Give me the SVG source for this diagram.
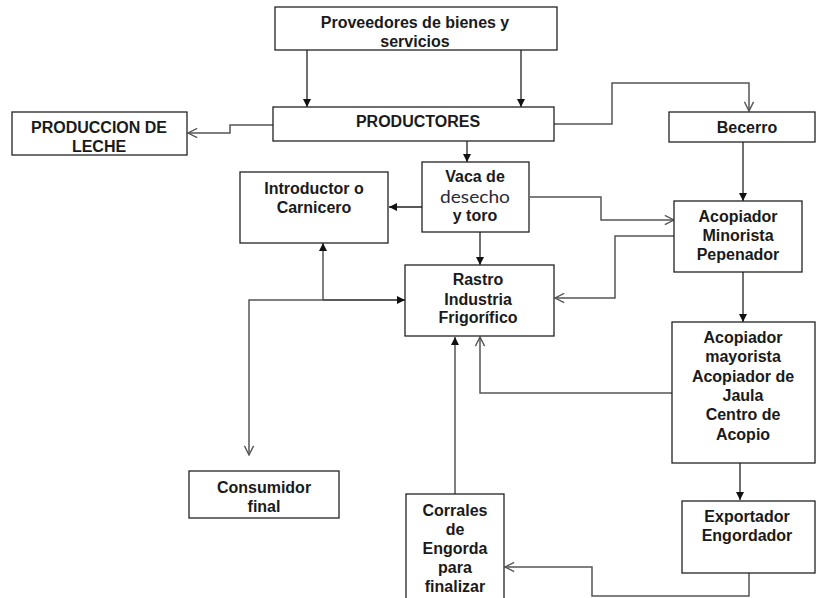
<svg xmlns="http://www.w3.org/2000/svg" width="816" height="598" viewBox="0 0 816 598">
<style>
.box{fill:#fff;stroke:#222;stroke-width:1.3}
.t{font-family:"Liberation Sans",Arial,sans-serif;font-weight:bold;font-size:16px;fill:#1a1a1a;text-anchor:middle}
.c{font-family:Lato,"Open Sans",sans-serif;font-size:18px;fill:#2a2a3a;text-anchor:middle}
.k{fill:none;stroke:#222;stroke-width:1.3}
.g{fill:none;stroke:#555;stroke-width:1.5}
</style>
<defs>
<marker id="fa" viewBox="0 0 10 10" refX="10" refY="5" markerUnits="userSpaceOnUse" markerWidth="8" markerHeight="8" orient="auto">
<path d="M0,0 L10,5 L0,10 z" fill="#111"/>
</marker>
<marker id="oa" viewBox="0 0 12 12" refX="11" refY="6" markerUnits="userSpaceOnUse" markerWidth="11" markerHeight="11" orient="auto">
<path d="M1,1 L11,6 L1,11" fill="none" stroke="#555" stroke-width="1.5"/>
</marker>
</defs>
<rect width="816" height="598" fill="#fff"/>
<g id="connectors">
<path class="k" d="M307,50 V107" marker-end="url(#fa)"/>
<path class="k" d="M521,50 V107" marker-end="url(#fa)"/>
<path class="g" d="M273,125 H230 V133 H188" marker-end="url(#oa)"/>
<path class="g" d="M554,124 H612 V83 H749 V111" marker-end="url(#oa)"/>
<path class="k" d="M467,141 V162" marker-end="url(#fa)"/>
<path class="k" d="M422,207 H389" marker-end="url(#fa)"/>
<path class="g" d="M530,197 H601 V220 H674" marker-end="url(#oa)"/>
<path class="k" d="M743,142 V201" marker-end="url(#fa)"/>
<path class="k" d="M480,232 V265" marker-end="url(#fa)"/>
<path class="g" d="M674,236 H615 V298 H555" marker-end="url(#oa)"/>
<path class="k" d="M743,272 V322" marker-end="url(#fa)"/>
<path class="g" d="M672,393 H480 V337" marker-end="url(#oa)"/>
<path class="k" d="M740,463 V500" marker-end="url(#fa)"/>
<path class="g" d="M749,573 V596 H592 V567 H505" marker-end="url(#oa)"/>
<path class="g" d="M455,494 V337" marker-end="url(#fa)"/>
<path class="k" d="M323,300 H405" stroke-width="1.8" marker-end="url(#fa)"/>
<path class="g" d="M323,300 V243" marker-end="url(#fa)"/>
<path class="g" d="M323,300 H249 V455" marker-end="url(#oa)"/>
</g>
<g id="proveedores">
<rect class="box" x="275" y="7" width="282" height="43"/>
<text class="t" x="415" y="28">Proveedores de bienes y</text>
<text class="t" x="415" y="47">servicios</text>
</g>
<g id="productores">
<rect class="box" x="273" y="107" width="281" height="34"/>
<text class="t" x="418" y="127">PRODUCTORES</text>
</g>
<g id="leche">
<rect class="box" x="12" y="112" width="175" height="43"/>
<text class="t" x="99" y="133">PRODUCCION DE</text>
<text class="t" x="99" y="152">LECHE</text>
</g>
<g id="becerro">
<rect class="box" x="669" y="112" width="146" height="30"/>
<text class="t" x="747" y="133">Becerro</text>
</g>
<g id="vaca">
<rect class="box" x="422" y="162" width="107" height="70"/>
<text class="t" x="475" y="182">Vaca de</text>
<text class="c" x="475" y="203" textLength="70" lengthAdjust="spacingAndGlyphs">desecho</text>
<text class="t" x="475" y="221">y toro</text>
</g>
<g id="introductor">
<rect class="box" x="240" y="172" width="148" height="71"/>
<text class="t" x="314" y="194">Introductor o</text>
<text class="t" x="314" y="213">Carnicero</text>
</g>
<g id="acopiador-minorista">
<rect class="box" x="674" y="201" width="128" height="71"/>
<text class="t" x="738" y="222">Acopiador</text>
<text class="t" x="738" y="241">Minorista</text>
<text class="t" x="738" y="260">Pepenador</text>
</g>
<g id="rastro">
<rect class="box" x="405" y="265" width="149" height="71"/>
<text class="t" x="478" y="285">Rastro</text>
<text class="t" x="478" y="305">Industria</text>
<text class="t" x="478" y="323">Frigorífico</text>
</g>
<g id="acopiador-mayorista">
<rect class="box" x="672" y="322" width="143" height="141"/>
<text class="t" x="743" y="343">Acopiador</text>
<text class="t" x="743" y="362">mayorista</text>
<text class="t" x="743" y="382">Acopiador de</text>
<text class="t" x="743" y="401">Jaula</text>
<text class="t" x="743" y="420">Centro de</text>
<text class="t" x="743" y="440">Acopio</text>
</g>
<g id="consumidor">
<rect class="box" x="189" y="471" width="150" height="47"/>
<text class="t" x="264" y="493">Consumidor</text>
<text class="t" x="264" y="512">final</text>
</g>
<g id="corrales">
<rect class="box" x="406" y="494" width="98" height="110"/>
<text class="t" x="455" y="516">Corrales</text>
<text class="t" x="455" y="535">de</text>
<text class="t" x="455" y="554">Engorda</text>
<text class="t" x="455" y="573">para</text>
<text class="t" x="455" y="592">finalizar</text>
</g>
<g id="exportador">
<rect class="box" x="682" y="501" width="133" height="72"/>
<text class="t" x="747" y="522">Exportador</text>
<text class="t" x="747" y="541">Engordador</text>
</g>
</svg>
